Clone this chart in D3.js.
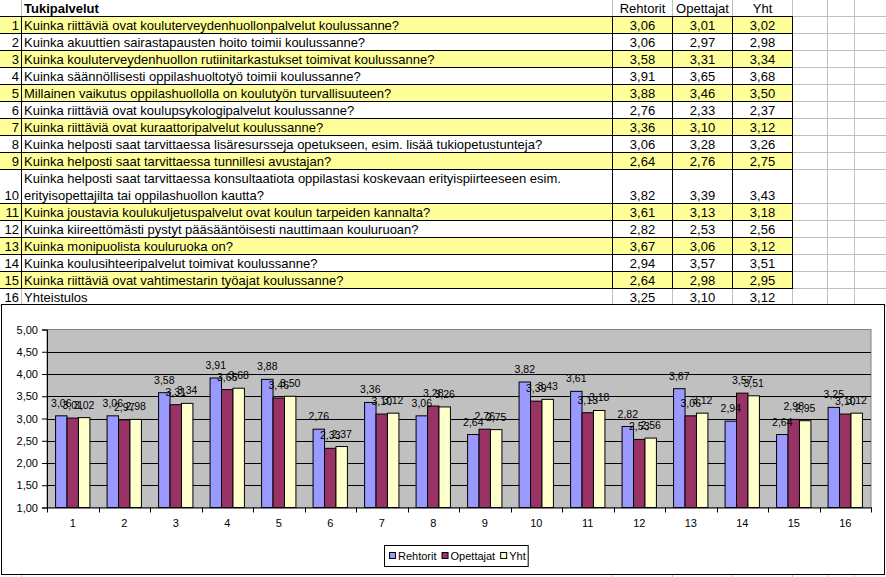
<!DOCTYPE html>
<html><head><meta charset="utf-8">
<script src="https://cdn.jsdelivr.net/npm/d3@7"></script>
<style>
html,body{margin:0;padding:0;background:#fff;}
svg{display:block;font-family:"Liberation Sans",Arial,sans-serif;}
</style></head>
<body>
<svg id="c" width="886" height="577"></svg>
<script>
const title = "Tukipalvelut";
const seriesNames = ["Rehtorit", "Opettajat", "Yht"];
const categories = ["1","2","3","4","5","6","7","8","9","10","11","12","13","14","15","16"];
const questions = [
  "Kuinka riittäviä ovat kouluterveydenhuollonpalvelut koulussanne?",
  "Kuinka akuuttien sairastapausten hoito toimii koulussanne?",
  "Kuinka kouluterveydenhuollon rutiinitarkastukset toimivat koulussanne?",
  "Kuinka säännöllisesti oppilashuoltotyö toimii koulussanne?",
  "Millainen vaikutus oppilashuollolla on koulutyön turvallisuuteen?",
  "Kuinka riittäviä ovat koulupsykologipalvelut koulussanne?",
  "Kuinka riittäviä ovat kuraattoripalvelut koulussanne?",
  "Kuinka helposti saat tarvittaessa lisäresursseja opetukseen, esim. lisää tukiopetustunteja?",
  "Kuinka helposti saat tarvittaessa tunnillesi avustajan?",
  "Kuinka helposti saat tarvittaessa konsultaatiota oppilastasi koskevaan erityispiirteeseen esim.\nerityisopettajilta tai oppilashuollon kautta?",
  "Kuinka joustavia koulukuljetuspalvelut ovat koulun tarpeiden kannalta?",
  "Kuinka kiireettömästi pystyt pääsääntöisesti nauttimaan kouluruoan?",
  "Kuinka monipuolista kouluruoka on?",
  "Kuinka koulusihteeripalvelut toimivat koulussanne?",
  "Kuinka riittäviä ovat vahtimestarin työajat koulussanne?",
  "Yhteistulos"
];
const rehtorit  = [3.06,3.06,3.58,3.91,3.88,2.76,3.36,3.06,2.64,3.82,3.61,2.82,3.67,2.94,2.64,3.25];
const opettajat = [3.01,2.97,3.31,3.65,3.46,2.33,3.10,3.28,2.76,3.39,3.13,2.53,3.06,3.57,2.98,3.10];
const yht       = [3.02,2.98,3.34,3.68,3.50,2.37,3.12,3.26,2.75,3.43,3.18,2.56,3.12,3.51,2.95,3.12];
const yTicks = [1,1.5,2,2.5,3,3.5,4,4.5,5];

const seriesValues = [rehtorit, opettajat, yht];
const colors = ["#9999ff", "#993366", "#ffffcc"];
const fmt = v => d3.format(".2f")(v).replace(".", ",");

const svg = d3.select("#c");

// ---------- spreadsheet ----------
const colX = [0, 21, 612, 672, 732, 792, 827, 854, 886];
const rowH = i => (i === 10 ? 34 : 17);
const rowTops = [];
let yy = 16;
for (let i = 1; i <= 16; i++) { rowTops.push(yy); yy += rowH(i); }
const rowBounds = [16].concat(rowTops.map((t, i) => t + rowH(i + 1)));

const sheet = svg.append("g");
// gray grid
sheet.selectAll("line.gh").data(rowBounds).join("line")
  .attr("x1", 0).attr("x2", 886).attr("y1", d => d + 0.5).attr("y2", d => d + 0.5)
  .attr("stroke", "#c0c0c0");
sheet.selectAll("line.gv").data(colX.slice(1, 8)).join("line")
  .attr("x1", d => d + 0.5).attr("x2", d => d + 0.5).attr("y1", 0).attr("y2", 577)
  .attr("stroke", "#c0c0c0");
// yellow rows
sheet.selectAll("rect.yr").data(d3.range(16).filter(i => i % 2 === 0 && i < 15)).join("rect")
  .attr("x", 0).attr("y", i => rowTops[i] + 1).attr("width", 792).attr("height", i => rowH(i + 1) - 1)
  .attr("fill", "#ffff99");
// black borders (rows 1-15)
const bTop = 16, bBot = rowBounds[15];
sheet.selectAll("line.bh").data(rowBounds.slice(0, 16)).join("line")
  .attr("x1", 0).attr("x2", 793).attr("y1", d => d + 0.5).attr("y2", d => d + 0.5)
  .attr("stroke", "#000");
sheet.selectAll("line.bv").data([21, 612, 672, 732, 792]).join("line")
  .attr("x1", d => d + 0.5).attr("x2", d => d + 0.5).attr("y1", bTop).attr("y2", bBot + 1)
  .attr("stroke", "#000");

// header
sheet.append("text").attr("x", 24).attr("y", 12.5).attr("font-size", 13).attr("font-weight", "bold")
  .text(title);
seriesNames.forEach((s, j) => {
  sheet.append("text").attr("x", (colX[j + 2] + colX[j + 3]) / 2 + 0.5).attr("y", 13)
    .attr("text-anchor", "middle").attr("font-size", 13).text(s);
});
// rows
questions.forEach((q, i) => {
  const top = rowTops[i], h = rowH(i + 1), base = top + h - 3.5;
  sheet.append("text").attr("x", 19).attr("y", base).attr("text-anchor", "end")
    .attr("font-size", 13).text(categories[i]);
  const lines = q.split("\n");
  lines.forEach((ln, k) => {
    sheet.append("text").attr("x", 24).attr("y", base - (lines.length - 1 - k) * 17)
      .attr("font-size", 13).text(ln);
  });
  seriesValues.forEach((vals, j) => {
    sheet.append("text").attr("x", (colX[j + 2] + colX[j + 3]) / 2 + 0.5).attr("y", base)
      .attr("text-anchor", "middle").attr("font-size", 13).text(fmt(vals[i]));
  });
});

// ---------- chart ----------
const chart = svg.append("g");
chart.append("rect").attr("x", 1.5).attr("y", 304.5).attr("width", 883).attr("height", 270)
  .attr("fill", "#fff").attr("stroke", "#000");

const pl = 47, pr = 871, pt = 329.5, pb = 507.5;
const x = d3.scaleBand().domain(categories).range([pl, pr]).paddingInner(0).paddingOuter(0);
const xs = d3.scaleBand().domain(seriesNames).range([0, x.bandwidth()]).paddingInner(0).paddingOuter(0.75);
const y = d3.scaleLinear().domain([1, 5]).range([pb, pt]);

chart.append("rect").attr("x", pl).attr("y", pt).attr("width", pr - pl).attr("height", pb - pt)
  .attr("fill", "#c0c0c0").attr("stroke", "#808080");
chart.selectAll("line.grid").data(yTicks.slice(1, -1)).join("line")
  .attr("x1", pl).attr("x2", pr).attr("y1", d => Math.round(y(d)) + 0.5).attr("y2", d => Math.round(y(d)) + 0.5)
  .attr("stroke", "#000");

// bars
const groups = chart.selectAll("g.cat").data(categories).join("g")
  .attr("transform", d => `translate(${x(d)},0)`);
groups.each(function(c, i) {
  const g = d3.select(this);
  seriesNames.forEach((s, j) => {
    const v = seriesValues[j][i];
    g.append("rect").attr("x", xs(s)).attr("y", y(v)).attr("width", xs.bandwidth())
      .attr("height", y(1) - y(v)).attr("fill", colors[j]).attr("stroke", "#000").attr("stroke-width", 1);
  });
});
// labels
groups.each(function(c, i) {
  const g = d3.select(this);
  seriesNames.forEach((s, j) => {
    const v = seriesValues[j][i];
    g.append("text").attr("x", xs(s) + xs.bandwidth() / 2).attr("y", y(v) - 9)
      .attr("text-anchor", "middle").attr("font-size", 10.5).attr("fill", "#000").text(fmt(v));
  });
});

// axes
const yAxis = d3.axisLeft(y).tickValues(yTicks).tickSize(5).tickPadding(4).tickFormat(fmt);
chart.append("g").attr("transform", `translate(${pl},0)`).call(yAxis)
  .call(g => g.select(".domain").attr("stroke", "#000"))
  .call(g => g.selectAll("text").attr("font-size", 11).attr("font-family", "Liberation Sans, Arial").attr("fill", "#000"));
const xAxis = d3.axisBottom(x).tickSize(0).tickPadding(12);
chart.append("g").attr("transform", `translate(0,${pb})`).call(xAxis)
  .call(g => g.select(".domain").attr("stroke", "#000"))
  .call(g => g.selectAll("text").attr("font-size", 11).attr("font-family", "Liberation Sans, Arial").attr("fill", "#000"));
// tick marks between categories
chart.selectAll("line.xt").data(categories.concat(["end"])).join("line")
  .attr("x1", (d, i) => (i < categories.length ? Math.round(x(d)) : pr) + 0.5)
  .attr("x2", (d, i) => (i < categories.length ? Math.round(x(d)) : pr) + 0.5)
  .attr("y1", pb).attr("y2", pb + 5).attr("stroke", "#000");

// legend
const lg = chart.append("g");
const lgBox = lg.append("rect").attr("x", 384.5).attr("y", 545.5).attr("height", 21)
  .attr("fill", "#fff").attr("stroke", "#000");
let lx = 389;
seriesNames.forEach((s, j) => {
  lg.append("rect").attr("x", lx + 0.5).attr("y", 552.5).attr("width", 6).attr("height", 6)
    .attr("fill", colors[j]).attr("stroke", "#000");
  const t = lg.append("text").attr("x", lx + 9).attr("y", 560).attr("font-size", 11).text(s);
  lx += 9 + t.node().getComputedTextLength() + 5;
});
lgBox.attr("width", lx - 384 - 3);
</script>
</body></html>
